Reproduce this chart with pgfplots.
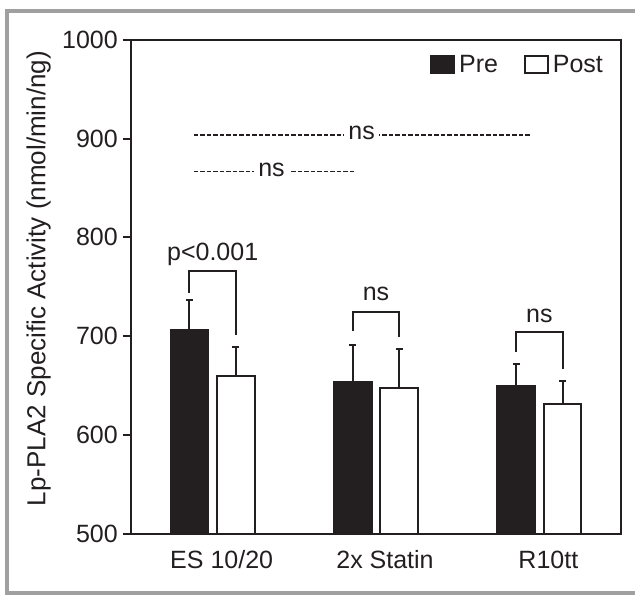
\documentclass[border=0pt]{standalone}
\usepackage{fontspec}
\setmainfont{Liberation Sans}
\usepackage{pgfplots}
\pgfplotsset{compat=1.18}
\definecolor{ink}{RGB}{35,31,32}
\definecolor{framegray}{RGB}{160,160,160}

\pgfplotsset{
  sq legend/.style={legend image code/.code={%
    \draw[##1,line width=1.8pt] (0pt,-8.5pt) rectangle (23pt,8.5pt);}},
  errs/.style={error bars/.cd, y dir=plus, y explicit,
    error bar style={ink, line width=2pt},
    error mark options={ink, line width=2pt, mark size=3.5pt, rotate=90}},
}

\begin{document}
\begin{tikzpicture}[font=\fontsize{25}{30}\selectfont]
\useasboundingbox (-131pt,-61.3pt) rectangle (504pt,533.7pt);
% outer frame
\draw[framegray, line width=4pt] (506pt,522.9pt) -- (-123.8pt,522.9pt)
  -- (-123.8pt,-58.8pt) -- (506pt,-58.8pt);

\begin{axis}[
  scale only axis,
  width=490pt, height=494pt,
  xmin=-0.5, xmax=2.5,
  ymin=500, ymax=1000,
  xtick={0,1,2},
  xticklabels={ES 10/20, 2x Statin, R10tt},
  ytick={500,600,...,1000},
  ytick pos=left, xtick pos=bottom,
  tick align=outside,
  major tick length=8pt,
  x tick style={draw=none},
  y tick style={ink, line width=2pt},
  axis line style={ink, line width=2.4pt},
  ticklabel style={text=ink},
  /pgf/number format/assume math mode=true,
  /pgf/number format/1000 sep={},
  yticklabel style={inner sep=0pt, xshift=-5pt},
  xticklabel style={anchor=base, yshift=-27pt, xshift=9pt},
  ylabel={Lp-PLA2 Specific Activity (nmol/min/ng)},
  ylabel style={at={(rel axis cs:-0.1884,0.5166)}, anchor=center, text=ink,
    font=\fontsize{26}{30}\selectfont},
  legend columns=2,
  legend style={draw=none, fill=none, inner sep=0pt, outer sep=0pt,
    at={(rel axis cs:0.963,0.969)}, anchor=north east,
    nodes={inner sep=0pt, text=ink},
    /tikz/every odd column/.append style={column sep=4pt},
    /tikz/every even column/.append style={column sep=26pt}},
]

% Pre (bars sit left of each group centre)
\addplot[ybar, sq legend, bar width=0.229, bar shift=0pt,
  fill=ink, draw=ink, line width=2pt, errs]
  coordinates {(-0.142,706.2) +- (0,30.8) (0.858,653.4) +- (0,37.4) (1.858,649.3) +- (0,22.0)};
\addlegendentry{Pre}

% Post (bars sit right of each group centre)
\addplot[ybar, sq legend, bar width=0.229, bar shift=0pt,
  fill=white, draw=ink, line width=2pt, errs]
  coordinates {(0.142,659.2) +- (0,30.0) (1.142,647.3) +- (0,39.7) (2.142,630.8) +- (0,23.6)};
\addlegendentry{Post}

% brackets between Pre and Post
\addplot[ink, line width=2pt, forget plot]
  coordinates {(-0.142,743.9) (-0.142,766.2) (0.142,766.2) (0.142,701.1)};
\addplot[ink, line width=2pt, forget plot]
  coordinates {(0.858,705.2) (0.858,724.7) (1.142,724.7) (1.142,699.1)};
\addplot[ink, line width=2pt, forget plot]
  coordinates {(1.858,683.9) (1.858,704.2) (2.142,704.2) (2.142,666.7)};
\node[anchor=base, text=ink] at (axis cs:0,777) {p<0.001};
\node[anchor=base, text=ink] at (axis cs:1,735.8) {ns};
\node[anchor=base, text=ink] at (axis cs:2,714) {ns};

% dashed comparisons between groups
\addplot[ink, line width=1.5pt, dash pattern=on 4.5pt off 2pt, forget plot]
  coordinates {(-0.116,903.5) (1.94,903.5)};
\addplot[ink, line width=1.5pt, dash pattern=on 4.5pt off 2pt, forget plot]
  coordinates {(-0.116,866.4) (0.875,866.4)};
\node[anchor=base, fill=white, inner xsep=4pt, inner ysep=1pt, text=ink]
  at (axis cs:0.912,898.5) {ns};
\node[anchor=base, fill=white, inner xsep=4pt, inner ysep=1pt, text=ink]
  at (axis cs:0.36,861.4) {ns};
\end{axis}
\end{tikzpicture}
\end{document}
